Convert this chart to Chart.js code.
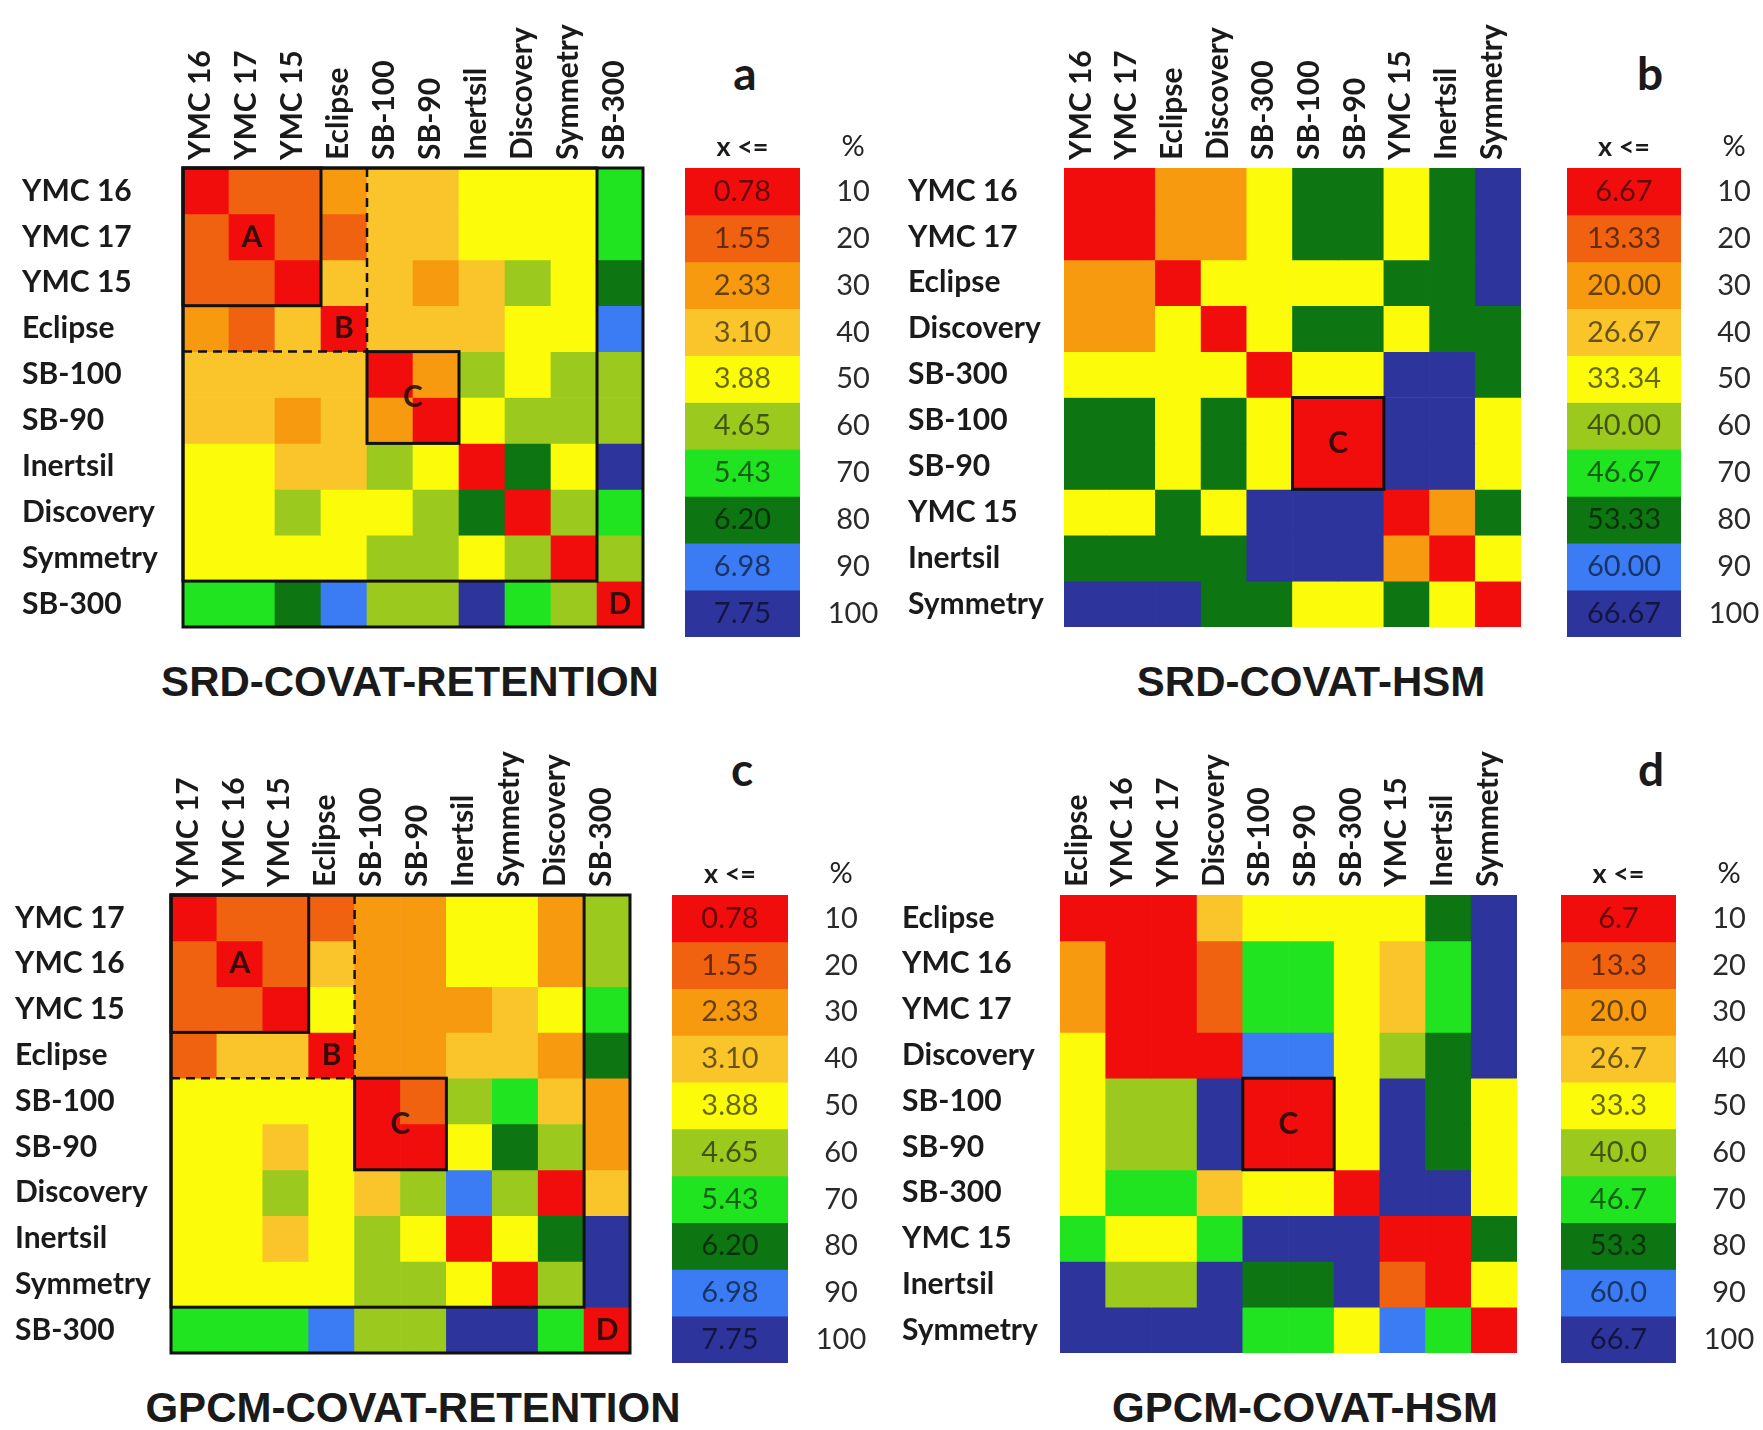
<!DOCTYPE html>
<html>
<head>
<meta charset="utf-8">
<script src="https://cdn.jsdelivr.net/npm/chart.js@4.4.0/dist/chart.umd.min.js"></script>
<style>
body { margin: 0; background: #fff; width: 1763px; height: 1430px; position: relative; overflow: hidden; }
canvas { position: absolute; }
.title { position: absolute; font-family: "Liberation Sans", Arial, sans-serif; font-weight: bold; font-size: 42px; color: #1a1a1a; transform: translate(-50%, -50%); white-space: nowrap; }
.letter { position: absolute; font-family: Lato, sans-serif; font-weight: bold; font-size: 46px; color: #1a1a1a; transform: translate(-50%, -50%); }
</style>
</head>
<body>
<div class="letter" style="left:745px; top:72px">a</div>
<div class="letter" style="left:1650px; top:72px">b</div>
<div class="letter" style="left:742px; top:768px">c</div>
<div class="letter" style="left:1651px; top:768px">d</div>
<div class="title" style="left:410px; top:682px">SRD-COVAT-RETENTION</div>
<div class="title" style="left:1311px; top:682px">SRD-COVAT-HSM</div>
<div class="title" style="left:413px; top:1408px">GPCM-COVAT-RETENTION</div>
<div class="title" style="left:1305px; top:1408px">GPCM-COVAT-HSM</div>
<script>
/* colour bins, 10% steps, red = most similar */
const palette = ['#f20d0d', '#f0620f', '#f79a10', '#f9c52a', '#fbfb0a', '#9bc91e', '#1fe41f', '#0d7511', '#3b7bf4', '#2d349b'];
const pctLabels = ['10', '20', '30', '40', '50', '60', '70', '80', '90', '100'];
const legendRet = ['0.78', '1.55', '2.33', '3.10', '3.88', '4.65', '5.43', '6.20', '6.98', '7.75'];
const legendHsmB = ['6.67', '13.33', '20.00', '26.67', '33.34', '40.00', '46.67', '53.33', '60.00', '66.67'];
const legendHsmD = ['6.7', '13.3', '20.0', '26.7', '33.3', '40.0', '46.7', '53.3', '60.0', '66.7'];

// a: SRD-COVAT-RETENTION
const rowsA = ['YMC 16', 'YMC 17', 'YMC 15', 'Eclipse', 'SB-100', 'SB-90', 'Inertsil', 'Discovery', 'Symmetry', 'SB-300'];
const colsA = rowsA;
const binsA = [
    [0, 1, 1, 2, 3, 3, 4, 4, 4, 6],
    [1, 0, 1, 1, 3, 3, 4, 4, 4, 6],
    [1, 1, 0, 3, 3, 2, 3, 5, 4, 7],
    [2, 1, 3, 0, 3, 3, 3, 4, 4, 8],
    [3, 3, 3, 3, 0, 2, 5, 4, 5, 5],
    [3, 3, 2, 3, 2, 0, 4, 5, 5, 5],
    [4, 4, 3, 3, 5, 4, 0, 7, 4, 9],
    [4, 4, 5, 4, 4, 5, 7, 0, 5, 6],
    [4, 4, 4, 4, 5, 5, 4, 5, 0, 5],
    [6, 6, 7, 8, 5, 5, 9, 6, 5, 0]
];

// b: SRD-COVAT-HSM
const rowsB = ['YMC 16', 'YMC 17', 'Eclipse', 'Discovery', 'SB-300', 'SB-100', 'SB-90', 'YMC 15', 'Inertsil', 'Symmetry'];
const colsB = rowsB;
const binsB = [
    [0, 0, 2, 2, 4, 7, 7, 4, 7, 9],
    [0, 0, 2, 2, 4, 7, 7, 4, 7, 9],
    [2, 2, 0, 4, 4, 4, 4, 7, 7, 9],
    [2, 2, 4, 0, 4, 7, 7, 4, 7, 7],
    [4, 4, 4, 4, 0, 4, 4, 9, 9, 7],
    [7, 7, 4, 7, 4, 0, 0, 9, 9, 4],
    [7, 7, 4, 7, 4, 0, 0, 9, 9, 4],
    [4, 4, 7, 4, 9, 9, 9, 0, 2, 7],
    [7, 7, 7, 7, 9, 9, 9, 2, 0, 4],
    [9, 9, 9, 7, 7, 4, 4, 7, 4, 0]
];

// c: GPCM-COVAT-RETENTION
const rowsC = ['YMC 17', 'YMC 16', 'YMC 15', 'Eclipse', 'SB-100', 'SB-90', 'Discovery', 'Inertsil', 'Symmetry', 'SB-300'];
const colsC = ['YMC 17', 'YMC 16', 'YMC 15', 'Eclipse', 'SB-100', 'SB-90', 'Inertsil', 'Symmetry', 'Discovery', 'SB-300'];
const binsC = [
    [0, 1, 1, 1, 2, 2, 4, 4, 2, 5],
    [1, 0, 1, 3, 2, 2, 4, 4, 2, 5],
    [1, 1, 0, 4, 2, 2, 2, 3, 4, 6],
    [1, 3, 3, 0, 2, 2, 3, 3, 2, 7],
    [4, 4, 4, 4, 0, 1, 5, 6, 3, 2],
    [4, 4, 3, 4, 0, 0, 4, 7, 5, 2],
    [4, 4, 5, 4, 3, 5, 8, 5, 0, 3],
    [4, 4, 3, 4, 5, 4, 0, 4, 7, 9],
    [4, 4, 4, 4, 5, 5, 4, 0, 5, 9],
    [6, 6, 6, 8, 5, 5, 9, 9, 6, 0]
];

// d: GPCM-COVAT-HSM
const rowsD = ['Eclipse', 'YMC 16', 'YMC 17', 'Discovery', 'SB-100', 'SB-90', 'SB-300', 'YMC 15', 'Inertsil', 'Symmetry'];
const colsD = rowsD;
const binsD = [
    [0, 0, 0, 3, 4, 4, 4, 4, 7, 9],
    [2, 0, 0, 1, 6, 6, 4, 3, 6, 9],
    [2, 0, 0, 1, 6, 6, 4, 3, 6, 9],
    [4, 0, 0, 0, 8, 8, 4, 5, 7, 9],
    [4, 5, 5, 9, 0, 0, 4, 9, 7, 4],
    [4, 5, 5, 9, 0, 0, 4, 9, 7, 4],
    [4, 6, 6, 3, 4, 4, 0, 9, 9, 4],
    [6, 4, 4, 6, 9, 9, 9, 0, 0, 7],
    [9, 5, 5, 9, 7, 7, 9, 1, 0, 4],
    [9, 9, 9, 9, 6, 6, 4, 8, 6, 0]
];

const labelFont = { family: 'Lato', weight: 'bold', size: 30 };

function makeCanvas(left, top, w, h) {
    const c = document.createElement('canvas');
    c.width = w;
    c.height = h;
    c.style.left = left + 'px';
    c.style.top = top + 'px';
    document.body.appendChild(c);
    return c;
}

// boxes, dashed lines and cluster letters, placed in cell units
const marksPlugin = {
    id: 'marks',
    afterDatasetsDraw(chart, args, opts) {
        const { ctx, scales: { x, y } } = chart;
        const px = (c) => x.getPixelForValue(c - 0.5);
        const py = (r) => y.getPixelForValue(r);
        ctx.save();
        ctx.strokeStyle = '#111';
        ctx.lineWidth = 3;
        (opts.boxes || []).forEach(([r0, c0, r1, c1]) => {
            ctx.strokeRect(px(c0), py(r0), px(c1) - px(c0), py(r1) - py(r0));
        });
        ctx.setLineDash([9, 6]);
        ctx.lineWidth = 2.5;
        (opts.dashes || []).forEach(([r0, c0, r1, c1]) => {
            ctx.beginPath();
            ctx.moveTo(px(c0), py(r0));
            ctx.lineTo(px(c1), py(r1));
            ctx.stroke();
        });
        ctx.setLineDash([]);
        ctx.font = 'bold 30px Lato';
        ctx.fillStyle = 'rgba(25,10,10,0.85)';
        ctx.textAlign = 'center';
        ctx.textBaseline = 'middle';
        (opts.letters || []).forEach(([t, r, c]) => ctx.fillText(t, px(c), py(r)));
        ctx.restore();
    }
};

function drawHeatmap(p) {
    const top = p.gridTop - 165;
    const w = p.gridRight - p.labelLeft + 8;
    const h = p.gridBottom - top + 8;
    const cv = makeCanvas(p.labelLeft, top, w, h);
    return new Chart(cv, {
        type: 'bar',
        data: {
            labels: p.cols,
            datasets: p.bins.map((row, i) => ({
                label: p.rows[i],
                data: row.map(() => 1),
                backgroundColor: row.map((k) => palette[k]),
                borderWidth: 0,
                barPercentage: 1,
                categoryPercentage: 1
            }))
        },
        options: {
            responsive: false,
            animation: false,
            events: [],
            layout: { padding: { top: 0, left: 0, right: 8, bottom: 8 } },
            plugins: { legend: { display: false }, tooltip: { enabled: false }, marks: p.marks },
            scales: {
                x: {
                    position: 'top',
                    stacked: true,
                    grid: { display: false },
                    border: { display: false },
                    ticks: { autoSkip: false, minRotation: 90, maxRotation: 90, padding: 0, labelOffset: 30,
                        color: '#1a1a1a', font: labelFont },
                    afterFit: (s) => { s.height = p.gridTop - top; }
                },
                y: {
                    type: 'linear',
                    stacked: true,
                    min: 0,
                    max: 10,
                    reverse: true,
                    grid: { display: false },
                    border: { display: false },
                    afterBuildTicks: (s) => { s.ticks = p.rows.map((_, i) => ({ value: i + 0.5 })); },
                    ticks: { autoSkip: false, crossAlign: 'far', padding: 0, color: '#1a1a1a', font: labelFont,
                        callback: (v, i) => p.rows[i] },
                    afterFit: (s) => { s.width = p.gridLeft - p.labelLeft; }
                }
            }
        },
        plugins: [marksPlugin]
    });
}

// value labels, "x <=" and % column of the colour key
const keyPlugin = {
    id: 'keyText',
    afterDatasetsDraw(chart, args, opts) {
        const { ctx, chartArea, scales: { y } } = chart;
        const cx = (chartArea.left + chartArea.right) / 2;
        const pctX = chartArea.right + 53;
        ctx.save();
        ctx.textAlign = 'center';
        ctx.textBaseline = 'middle';
        ctx.font = 'bold 27px Lato';
        ctx.fillStyle = '#1a1a1a';
        ctx.fillText('x <=', cx, chartArea.top - 21);
        ctx.font = '29px Lato';
        ctx.fillStyle = '#222';
        ctx.fillText('%', pctX, chartArea.top - 21);
        opts.values.forEach((v, i) => {
            const yc = y.getPixelForValue(i + 0.5);
            ctx.fillStyle = 'rgba(0,0,0,0.58)';
            ctx.fillText(v, cx, yc);
            ctx.fillStyle = '#2a2a2a';
            ctx.fillText(pctLabels[i], pctX, yc);
        });
        ctx.restore();
    }
};

function drawKey(p) {
    const top = p.gridTop - 50;
    const w = 240;
    const h = p.gridBottom - top + 4;
    const cv = makeCanvas(p.legLeft, top, w, h);
    return new Chart(cv, {
        type: 'bar',
        data: {
            labels: ['x <='],
            datasets: p.legend.map((v, i) => ({
                label: v,
                data: [1],
                backgroundColor: palette[i],
                borderWidth: 0,
                barPercentage: 1,
                categoryPercentage: 1
            }))
        },
        options: {
            responsive: false,
            animation: false,
            events: [],
            layout: { padding: { top: 50, left: 0, right: w - (p.legRight - p.legLeft), bottom: 4 } },
            plugins: { legend: { display: false }, tooltip: { enabled: false }, keyText: { values: p.legend } },
            scales: {
                x: { display: false, stacked: true },
                y: { display: false, stacked: true, min: 0, max: 10, reverse: true }
            }
        },
        plugins: [keyPlugin]
    });
}

const retMarks = {
    boxes: [[0, 0, 3, 3], [4, 4, 6, 6], [0, 0, 9, 9], [0, 0, 10, 10]],
    dashes: [[0, 4, 4, 4], [4, 0, 4, 4]],
    letters: [['A', 1.5, 1.5], ['B', 3.5, 3.5], ['C', 5, 5], ['D', 9.5, 9.5]]
};

const panels = [
    { rows: rowsA, cols: colsA, bins: binsA, legend: legendRet, labelLeft: 22, gridLeft: 183, gridRight: 643, gridTop: 168, gridBottom: 637,
      legLeft: 685, legRight: 800, marks: retMarks },
    { rows: rowsB, cols: colsB, bins: binsB, legend: legendHsmB, labelLeft: 908, gridLeft: 1064, gridRight: 1521, gridTop: 168, gridBottom: 637,
      legLeft: 1567, legRight: 1681, marks: { boxes: [[5, 5, 7, 7]], letters: [['C', 6, 6]] } },
    { rows: rowsC, cols: colsC, bins: binsC, legend: legendRet, labelLeft: 15, gridLeft: 171, gridRight: 630, gridTop: 895, gridBottom: 1363,
      legLeft: 672, legRight: 788, marks: retMarks },
    { rows: rowsD, cols: colsD, bins: binsD, legend: legendHsmD, labelLeft: 902, gridLeft: 1060, gridRight: 1517, gridTop: 895, gridBottom: 1363,
      legLeft: 1561, legRight: 1676, marks: { boxes: [[4, 4, 6, 6]], letters: [['C', 5, 5]] } }
];

panels.forEach((p) => {
    drawHeatmap(p);
    drawKey(p);
});
</script>
</body>
</html>
